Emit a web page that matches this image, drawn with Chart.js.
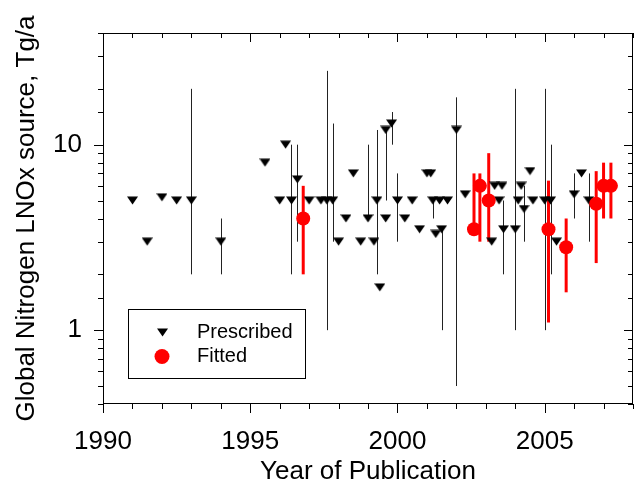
<!DOCTYPE html>
<html>
<head>
<meta charset="utf-8">
<script src="https://cdn.jsdelivr.net/npm/chart.js@4.4.1/dist/chart.umd.min.js"></script>
<style>
  body { margin: 0; background: #fff; }
  #wrap { width: 635px; height: 494px; }
</style>
</head>
<body>
<div id="wrap"><canvas id="chart" width="635" height="494"></canvas></div>
<script>
// values (year of publication, LNOx source in Tg/a)
const prescribedYear = [1991.0, 1991.5, 1992.0, 1992.5, 1993.0, 1994.0, 1995.5, 1996.0, 1996.2, 1996.4,
                        1996.6, 1997.0, 1997.4, 1997.6, 1997.8, 1998.0, 1998.25, 1998.5, 1998.75, 1999.0,
                        1999.2, 1999.3, 1999.4, 1999.6, 1999.6, 1999.8, 2000.0, 2000.25, 2000.5, 2000.75,
                        2001.0, 2001.13, 2001.2, 2001.3, 2001.43, 2001.5, 2001.7, 2002.0, 2002.3, 2003.2,
                        2003.3, 2003.45, 2003.55, 2003.6, 2004.0, 2004.1, 2004.2, 2004.3, 2004.5, 2004.6,
                        2005.0, 2005.2, 2005.4, 2006.0, 2006.25, 2006.5];
const prescribedValue = [5, 3, 5.2, 5, 5, 3, 8, 5, 10, 5,
                         6.5, 5, 5, 5, 5, 3, 4, 7, 3, 4,
                         3, 5, 1.7, 12, 4, 13, 5, 4, 5, 3.5,
                         7, 7, 5, 3.3, 5, 3.5, 5, 12, 5.4, 3,
                         6, 5, 6, 3.5, 3.5, 5, 6, 4.5, 7.2, 5,
                         5, 5, 3, 5.4, 7, 5];
const prescribedLow = [null, null, null, null, 2, 2, null, null, null, 2,
                       3, null, null, 1, 3, null, null, null, null, 4,
                       null, 2, null, 5, null, 10, 3, null, null, null,
                       null, null, 4, null, null, 1, null, 0.5, null, null,
                       null, null, null, 2, 1, null, null, 3, null, null,
                       1, 2, null, 4, null, 3];
const prescribedHigh = [null, null, null, null, 20, 4, null, null, null, 10,
                        10, null, null, 25, 13, null, null, null, null, 10,
                        null, 12, null, 12, null, 15, 7, null, null, null,
                        null, null, 5, null, null, 3.5, null, 18, null, null,
                        null, null, null, 5, 20, null, null, 6, null, null,
                        20, 10, null, 7, null, 7];

const fittedYear = [1996.8, 2002.6, 2002.8, 2003.1, 2005.13, 2005.73, 2006.75, 2007.0, 2007.25];
const fittedValue = [4, 3.5, 6, 5, 3.5, 2.8, 4.8, 6, 6];
const fittedLow = [2, 3.3, 3, 3, 1.1, 1.6, 2.3, 4, 4];
const fittedHigh = [6, 7, 7, 9, 6.4, 4, 7.2, 8, 8];

const xTickLabels = [1990, 1995, 2000, 2005];
const yTickLabels = [1, 10];

const FONT = 'Liberation Sans, Arial, sans-serif';

// flat downward triangle marker
const tri = document.createElement('canvas');
tri.width = 11; tri.height = 9;
const tc = tri.getContext('2d');
tc.fillStyle = '#000';
tc.beginPath(); tc.moveTo(0, 0.5); tc.lineTo(11, 0.5); tc.lineTo(5.5, 8.5); tc.closePath(); tc.fill();

function toPoints(xs, ys) {
  return xs.map((x, i) => ({ x: x, y: ys[i] }));
}

const errorBars = {
  id: 'errorBars',
  beforeDatasetsDraw(chart) {
    const ctx = chart.ctx, xs = chart.scales.x, ys = chart.scales.y;
    chart.data.datasets.slice().reverse().forEach(ds => {
      ctx.save();
      ctx.strokeStyle = ds.barColor;
      ctx.lineWidth = ds.barWidth;
      ds.data.forEach((p, i) => {
        const lo = ds.low[i], hi = ds.high[i];
        if (lo == null || hi == null) return;
        let px = xs.getPixelForValue(p.x);
        if (ds.barWidth === 1) px = Math.round(px) + 0.5;
        ctx.beginPath();
        ctx.moveTo(px, ys.getPixelForValue(lo));
        ctx.lineTo(px, ys.getPixelForValue(hi));
        ctx.stroke();
      });
      ctx.restore();
    });
  }
};

const frame = {
  id: 'frame',
  afterDatasetsDraw(chart) {
    const { ctx, chartArea: a, scales: { x, y } } = chart;
    ctx.save();
    ctx.strokeStyle = '#000';
    ctx.lineWidth = 1;
    ctx.strokeRect(a.left + 0.5, a.top + 0.5, a.right - a.left - 1, a.bottom - a.top - 1);
    ctx.beginPath();
    x.ticks.forEach(t => {
      const px = Math.round(x.getPixelForValue(t.value)) + 0.5;
      const len = xTickLabels.includes(t.value) ? 9 : 5;
      ctx.moveTo(px, a.bottom); ctx.lineTo(px, a.bottom + len);
      ctx.moveTo(px, a.top); ctx.lineTo(px, a.top + len);
    });
    y.ticks.forEach(t => {
      const py = Math.round(y.getPixelForValue(t.value)) + 0.5;
      const len = yTickLabels.includes(t.value) ? 9 : 5;
      ctx.moveTo(a.left, py); ctx.lineTo(a.left - len, py);
      ctx.moveTo(a.right, py); ctx.lineTo(a.right - len, py);
    });
    ctx.stroke();
    ctx.restore();
  }
};

const boxLegend = {
  id: 'boxLegend',
  afterDraw(chart) {
    const { ctx, chartArea: a } = chart;
    const left = a.left + 25, top = a.top + 276, w = 177, h = 69;
    ctx.save();
    ctx.fillStyle = '#fff';
    ctx.fillRect(left, top, w, h);
    ctx.strokeStyle = '#000';
    ctx.lineWidth = 1;
    ctx.strokeRect(left + 0.5, top + 0.5, w, h);
    ctx.drawImage(tri, left + 29, top + 19);
    ctx.fillStyle = '#ff0000';
    ctx.beginPath();
    ctx.arc(left + 34, top + 47.5, 7.5, 0, Math.PI * 2);
    ctx.fill();
    ctx.fillStyle = '#000';
    ctx.font = '20px ' + FONT;
    ctx.textBaseline = 'middle';
    chart.data.datasets.slice().reverse().forEach((ds, i) => {
      ctx.fillText(ds.label, left + 69, top + 23 + i * 24.5);
    });
    ctx.restore();
  }
};

new Chart(document.getElementById('chart'), {
  type: 'scatter',
  data: {
    datasets: [
      {
        label: 'Fitted',
        data: toPoints(fittedYear, fittedValue),
        low: fittedLow,
        high: fittedHigh,
        barColor: '#ff0000',
        barWidth: 3,
        pointStyle: 'circle',
        pointRadius: 7,
        pointBackgroundColor: '#ff0000',
        pointBorderWidth: 0,
        order: 1
      },
      {
        label: 'Prescribed',
        data: toPoints(prescribedYear, prescribedValue),
        low: prescribedLow,
        high: prescribedHigh,
        barColor: '#222',
        barWidth: 1,
        pointStyle: tri,
        pointRadius: 5,
        order: 2
      }
    ]
  },
  options: {
    responsive: false,
    animation: false,
    layout: { autoPadding: false, padding: { top: 33, right: 2, left: 0, bottom: 0 } },
    plugins: { legend: { display: false }, tooltip: { enabled: false } },
    scales: {
      x: {
        type: 'linear',
        min: 1990,
        max: 2008,
        grid: { display: false, drawTicks: true, tickLength: 22 },
        border: { display: false },
        afterFit: s => { s.height = 90; s.paddingLeft = 0; s.paddingRight = 0; },
        ticks: {
          stepSize: 1,
          autoSkip: false,
          maxRotation: 0,
          padding: 0,
          color: '#000',
          font: { family: FONT, size: 26 },
          callback: v => xTickLabels.includes(v) ? String(v) : ''
        },
        title: {
          display: true,
          text: 'Year of Publication',
          color: '#000',
          font: { family: FONT, size: 26 },
          padding: { top: 0, bottom: 7 }
        }
      },
      y: {
        type: 'logarithmic',
        min: 0.4,
        max: 40,
        grid: { display: false, drawTicks: true, tickLength: 21 },
        border: { display: false },
        afterFit: s => { s.width = 103; s.paddingTop = 0; s.paddingBottom = 0; },
        ticks: {
          autoSkip: false,
          padding: 0,
          color: '#000',
          font: { family: FONT, size: 26 },
          callback: v => yTickLabels.includes(v) ? String(v) : ''
        },
        title: {
          display: true,
          text: 'Global Nitrogen LNOx source, Tg/a',
          color: '#000',
          font: { family: FONT, size: 26 },
          padding: { top: 11, bottom: 0 }
        }
      }
    }
  },
  plugins: [errorBars, frame, boxLegend]
});
</script>
</body>
</html>
